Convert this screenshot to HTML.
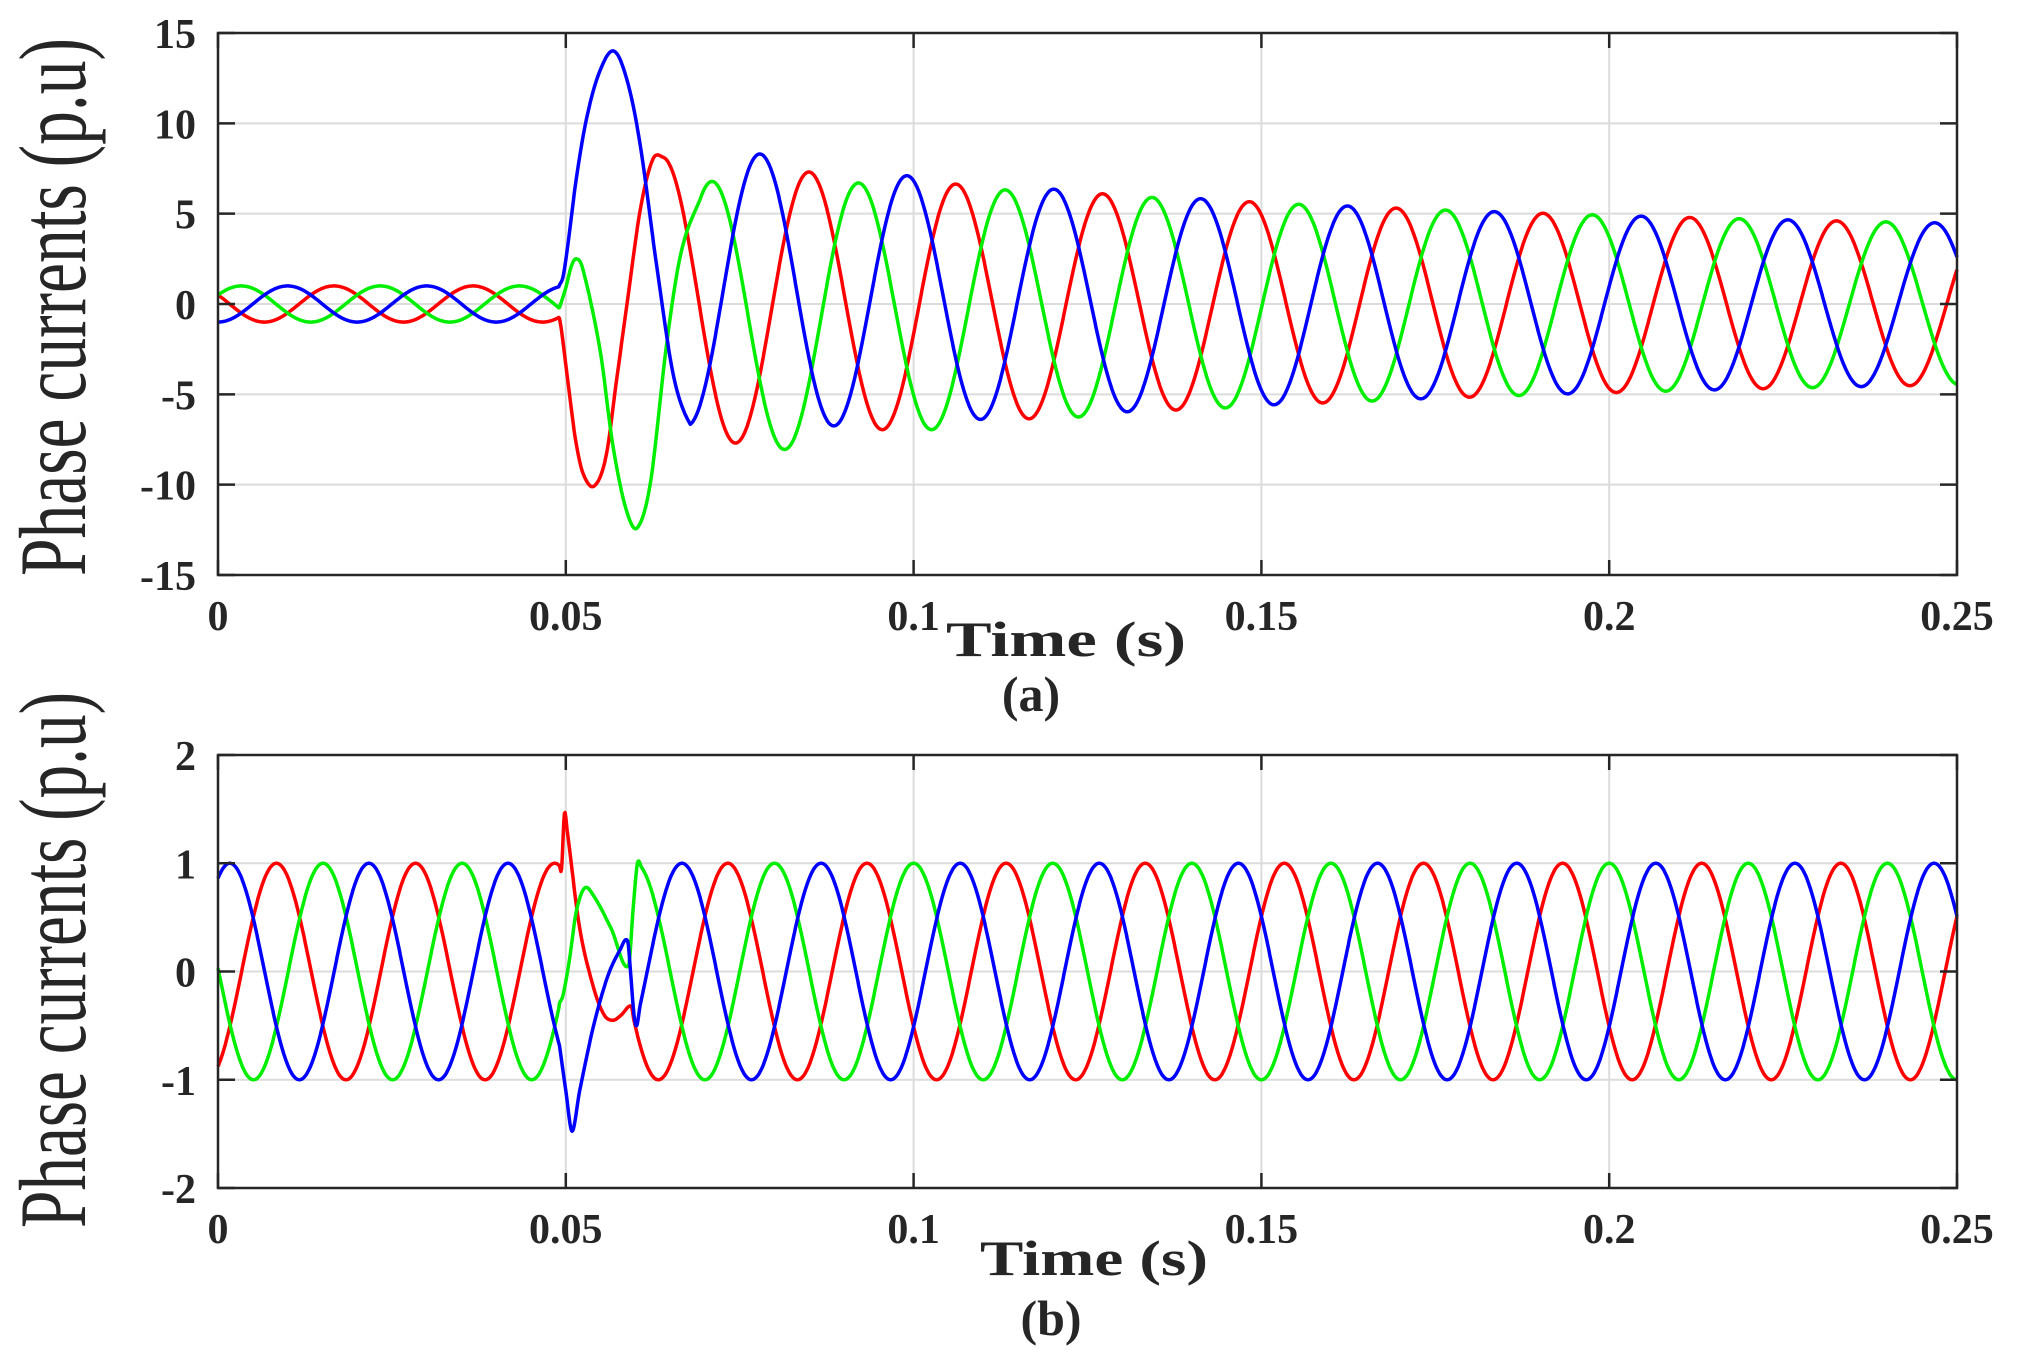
<!DOCTYPE html>
<html><head><meta charset="utf-8">
<style>
html,body{margin:0;padding:0;background:#fff;}
svg{display:block;}
text{font-family:"Liberation Serif",serif;fill:#262626;}
</style></head>
<body>
<svg id="s" width="2027" height="1363" viewBox="0 0 2027 1363" xmlns="http://www.w3.org/2000/svg">
<rect width="2027" height="1363" fill="#fff"/>
<g id="g"></g>
<text x="85" y="307" font-size="95" text-anchor="middle" transform="rotate(-90 85 307)" textLength="538" lengthAdjust="spacingAndGlyphs">Phase currents (p.u)</text>
<text x="85" y="960" font-size="95" text-anchor="middle" transform="rotate(-90 85 960)" textLength="536" lengthAdjust="spacingAndGlyphs">Phase currents (p.u)</text>
<text x="1066" y="656" font-size="50" font-weight="bold" text-anchor="middle" textLength="240" lengthAdjust="spacingAndGlyphs">Time (s)</text>
<text x="1031" y="711" font-size="50" font-weight="bold" text-anchor="middle">(a)</text>
<text x="1094" y="1275" font-size="50" font-weight="bold" text-anchor="middle" textLength="228" lengthAdjust="spacingAndGlyphs">Time (s)</text>
<text x="1051" y="1335" font-size="50" font-weight="bold" text-anchor="middle">(b)</text>
</svg>
<script>
(function(){
var NS="http://www.w3.org/2000/svg",G=document.getElementById("g");
function el(n,a,t){var e=document.createElementNS(NS,n);for(var k in a)e.setAttribute(k,a[k]);if(t!==undefined)e.textContent=t;G.appendChild(e);return e;}
var L=218,R=1957,W=R-L;
function X(t){return L+t/0.25*W;}
function cr(pts,t){
 var i=0;while(i<pts.length-2&&t>pts[i+1][0])i++;
 var p0=pts[Math.max(0,i-1)],p1=pts[i],p2=pts[i+1],p3=pts[Math.min(pts.length-1,i+2)];
 var u=(t-p1[0])/(p2[0]-p1[0]);
 var m1=(p2[1]-p0[1])/(p2[0]-p0[0])*(p2[0]-p1[0]);
 var m2=(p3[1]-p1[1])/(p3[0]-p1[0])*(p2[0]-p1[0]);
 if(i==0)m1=(p2[1]-p1[1]);
 var u2=u*u,u3=u2*u;
 return (2*u3-3*u2+1)*p1[1]+(u3-2*u2+u)*m1+(-2*u3+3*u2)*p2[1]+(u3-u2)*m2;
}
function series(pre,post,kp,tj){
 var pts=kp.slice();pts.push([tj,post(tj)]);pts.push([tj+0.0008,post(tj+0.0008)]);
 return function(t){ if(t<kp[0][0])return pre(t); if(t>=tj)return post(t); return cr(pts,t);};
}
function axes(top,bot,ymin,ymax,step){
 var H=bot-top;function Y(v){return bot-(v-ymin)/(ymax-ymin)*H;}
 for(var k=1;k<5;k++)el("line",{x1:X(k*0.05),x2:X(k*0.05),y1:top,y2:bot,stroke:"#dcdcdc","stroke-width":2});
 for(var v=ymin+step;v<ymax-1e-9;v+=step)el("line",{x1:L,x2:R,y1:Y(v),y2:Y(v),stroke:"#dcdcdc","stroke-width":2});
 return Y;
}
function frame(top,bot,ymin,ymax,step,Y){
 for(var k=0;k<=5;k++){var x=X(k*0.05);
  el("line",{x1:x,x2:x,y1:top,y2:top+15,stroke:"#262626","stroke-width":2.5});
  el("line",{x1:x,x2:x,y1:bot,y2:bot-15,stroke:"#262626","stroke-width":2.5});
  el("text",{x:x,y:bot+55,"font-size":42,"font-weight":"bold","text-anchor":"middle"},["0","0.05","0.1","0.15","0.2","0.25"][k]);}
 for(var v=ymin;v<=ymax+1e-9;v+=step){var y=Y(v);
  el("line",{x1:L,x2:L+17,y1:y,y2:y,stroke:"#262626","stroke-width":2.5});
  el("line",{x1:R,x2:R-17,y1:y,y2:y,stroke:"#262626","stroke-width":2.5});
  el("text",{x:196,y:y+15,"font-size":42,"font-weight":"bold","text-anchor":"end"},String(Math.round(v)));}
 el("rect",{x:L,y:top,width:W,height:bot-top,fill:"none",stroke:"#262626","stroke-width":2.5});
}
function draw(f,Y,col){var d="";for(var i=0;i<=2500;i++){var t=i*0.0001;d+=(i?"L":"M")+X(t).toFixed(1)+" "+Y(f(t)).toFixed(1);}
 el("path",{d:d,fill:"none",stroke:col,"stroke-width":3.5,"stroke-linejoin":"round"});}
var w1=100*Math.PI,w2=2*Math.PI/0.0211;
var Ya=axes(33,575,-15,15,5);
function A(t){return 3.8+4.5*Math.exp(-(t-0.06)/0.1);}
function D(t){return 3*Math.exp(-(t-0.05)/0.02);}
var ra=series(function(t){return Math.cos(w1*t+Math.PI/3);},function(t){return A(t)*Math.cos(w2*(t-0.085));},
 [[0.0491,-0.8],[0.0494,-1.5],[0.0504,-4.6],[0.0514,-7.5],[0.0525,-9.4],[0.0541,-10.07],[0.0558,-8.4],[0.0573,-4.2],[0.0588,0],[0.0607,5.2],[0.0625,8.0]],0.0641);
var ga=series(function(t){return Math.cos(w1*t-Math.PI/3);},function(t){return A(t)*Math.cos(w2*(t-0.0921))-D(t);},
 [[0.0491,-0.2],[0.0500,0.9],[0.0508,2.1],[0.0515,2.5],[0.0524,2.0],[0.0549,-2.5],[0.0568,-7.9],[0.0587,-11.4],[0.0603,-12.38],[0.0622,-9.8],[0.0645,-2.2],[0.0666,2.9]],0.0695);
var ba=series(function(t){return -Math.cos(w1*t);},function(t){return A(t)*Math.cos(w2*(t-0.078))+D(t);},
 [[0.0491,1.05],[0.0496,1.5],[0.0502,3.0],[0.0515,6.9],[0.0530,10.3],[0.0549,12.9],[0.0569,14.0],[0.0588,12.4],[0.0607,8.8],[0.0630,2.3],[0.0655,-4.0]],0.0679);
draw(ra,Ya,"#ff0000");draw(ga,Ya,"#00ee00");draw(ba,Ya,"#0000ff");
frame(33,575,-15,15,5,Ya);
var Yb=axes(755,1188,-2,2,1);
var rb=series(function(t){return Math.cos(w1*(t-0.0084));},function(t){return Math.cos(w1*(t-0.0133));},
 [[0.0491,0.976],[0.0494,0.95],[0.0498,1.46],[0.0502,1.3],[0.052,0.4],[0.054,-0.15],[0.0555,-0.4],[0.0568,-0.45],[0.058,-0.4],[0.0594,-0.32]],0.0598);
var gb=series(function(t){return Math.cos(w1*(t-0.0151));},function(t){return Math.cos(w1*t);},
 [[0.0491,-0.29],[0.0496,-0.22],[0.0505,0.1],[0.0515,0.55],[0.0527,0.77],[0.054,0.7],[0.0565,0.4],[0.059,0.05],[0.0597,0.6],[0.0603,1.0]],0.0609);
var bb=series(function(t){return Math.cos(w1*(t-0.0017));},function(t){return Math.cos(w1*(t-0.0667));},
 [[0.0491,-0.685],[0.0500,-1.1],[0.0509,-1.475],[0.052,-1.1],[0.054,-0.5],[0.056,-0.05],[0.0578,0.2],[0.0589,0.28],[0.0593,0],[0.0598,-0.4],[0.0602,-0.5]],0.0607);
draw(rb,Yb,"#ff0000");draw(gb,Yb,"#00ee00");draw(bb,Yb,"#0000ff");
frame(755,1188,-2,2,1,Yb);
})();
</script>
</body></html>
